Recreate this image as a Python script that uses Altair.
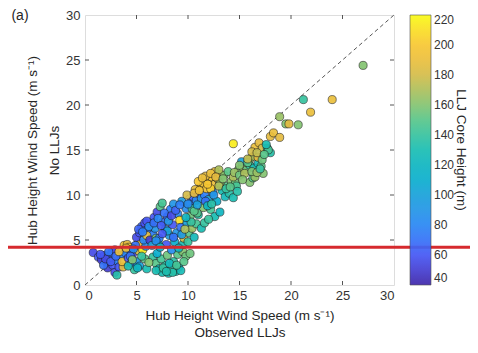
import altair as alt
import pandas as pd

# Observed LLJs hub-height wind speed (x), No-LLJ hub-height wind speed (y), LLJ core height (colour)
obs_speed = [
    0.8, 1.3, 1.6, 1.9, 2.1, 2.4, 2.2, 2.7, 2.9, 3.1, 2.6, 3.3, 1.8, 3.5, 2.9, 3.1,
    3.7, 3.6, 3.8, 4.1, 4.3, 3.9, 4.2, 4.5, 4.6, 4.8, 5.0, 5.2, 5.4, 5.6, 5.3, 5.8, 6.0, 4.4, 4.9, 5.9,
    5.0, 5.3, 5.5, 5.8, 6.1, 6.4, 6.6, 5.7, 6.0, 6.3, 6.8, 6.9, 7.1, 6.5,
    6.6, 6.9, 7.2, 7.5, 7.8, 8.1, 8.4, 8.8, 9.1, 7.4, 8.0, 8.6, 9.0, 9.5, 9.8, 6.2, 7.0,
    6.7, 7.0, 7.3, 7.5, 7.6, 7.8, 8.0, 8.2, 8.3, 8.5, 8.7, 8.9, 9.0, 9.2, 9.3, 9.5, 9.6, 9.8, 9.9,
    10.1, 10.2, 10.4, 7.2, 7.9, 8.4, 9.1, 10.0, 10.6, 10.8, 11.0, 11.3, 11.6, 8.6, 9.4,
    10.2, 10.5, 10.8, 11.0, 11.3, 11.6, 12.0, 12.4, 12.8, 11.2, 11.5, 11.8, 12.0, 12.3, 12.6, 12.9,
    13.1, 12.2, 11.7, 12.6, 10.7, 11.0, 10.4, 10.9, 11.5, 12.2, 12.6, 13.1, 12.0, 9.9,
    13.3, 13.6, 14.0, 14.4, 13.8, 14.2, 14.6, 13.1, 13.5, 13.9, 14.4, 14.9, 15.3, 15.7, 15.2,
    16.0, 16.3, 16.5, 17.3, 16.0, 16.4, 16.8, 17.1, 13.0, 14.7,
    16.0, 16.4, 16.8, 17.2, 16.5, 16.9, 17.2, 17.7, 18.0, 17.8, 18.0, 18.3, 18.9, 14.4,
    18.9, 19.5, 19.8, 20.7, 21.9, 21.2, 24.0, 27.0,
    5.2, 5.6, 6.0, 6.2, 6.7, 7.1, 7.4, 7.7, 8.1, 8.4, 8.8, 9.2, 8.0, 7.5, 6.9, 7.3, 8.6, 9.4, 9.7,
    10.3, 9.8, 10.6,
    2.0, 2.5, 3.0, 3.3, 4.0, 4.7, 4.4, 1.5, 2.3, 4.2, 4.6, 5.5, 5.1,
    6.9, 7.6, 8.2, 8.5, 9.3, 7.9, 8.9, 9.6, 10.2,
    10.6, 11.1, 11.4, 11.9, 12.2, 12.7, 13.0, 12.5, 11.7, 10.9, 11.9, 12.3, 10.0,
    13.4, 13.7, 14.1, 14.5, 15.0, 15.5, 15.0, 15.8, 16.2, 16.7, 17.0, 14.8, 15.3,
    16.2, 16.7, 17.4, 17.6, 15.8,
]
nollj_speed = [
    3.6, 3.1, 2.8, 3.3, 2.5, 3.0, 1.9, 2.2, 1.4, 2.7, 3.6, 2.0, 2.2, 3.3, 3.9, 1.1,
    2.0, 2.6, 4.4, 4.5, 4.2, 3.6, 3.0, 2.4, 3.4, 1.7, 2.6, 3.8, 4.6, 3.9, 2.1, 2.9, 1.8, 3.9, 4.4, 4.3,
    5.3, 5.8, 6.5, 6.9, 6.2, 6.8, 5.6, 5.0, 5.5, 5.0, 6.3, 5.2, 4.7, 4.4,
    3.1, 2.4, 1.8, 1.4, 2.2, 1.3, 1.8, 1.5, 2.0, 2.9, 3.3, 2.6, 3.4, 3.7, 3.2, 2.5, 3.5,
    7.5, 8.1, 8.7, 9.1, 7.0, 6.2, 7.6, 5.5, 8.4, 6.7, 4.8, 5.8, 7.9, 7.2, 6.4, 4.5, 5.2, 8.5, 6.9,
    5.8, 7.6, 6.3, 5.2, 4.5, 3.9, 4.1, 4.8, 5.3, 6.8, 7.8, 6.3, 6.9, 9.0, 9.3,
    9.1, 9.8, 9.4, 10.2, 9.6, 10.0, 9.5, 10.3, 9.3, 10.8, 11.3, 10.7, 11.6, 12.0, 11.2, 11.8,
    12.3, 10.7, 12.1, 12.6, 10.6, 11.5, 8.5, 8.0, 8.6, 8.4, 7.6, 8.1, 7.3, 10.0,
    10.5, 9.8, 10.2, 9.7, 11.0, 11.5, 11.3, 11.3, 12.2, 12.6, 12.0, 12.8, 13.1, 12.8, 13.7,
    11.4, 11.9, 12.0, 12.4, 13.3, 13.0, 13.5, 13.2, 12.8, 11.0,
    14.0, 14.3, 14.2, 13.9, 15.3, 15.8, 15.2, 15.2, 14.7, 15.0, 16.5, 16.9, 16.4, 15.7,
    18.7, 17.9, 17.9, 17.8, 19.2, 20.6, 20.6, 24.4,
    6.2, 5.9, 7.1, 6.5, 6.9, 7.4, 6.6, 8.0, 7.1, 7.7, 8.3, 8.9, 6.0, 5.7, 4.9, 4.2, 5.3, 5.6, 6.2,
    7.0, 7.5, 8.2,
    2.9, 2.6, 3.2, 3.7, 4.1, 4.0, 3.2, 3.4, 3.7, 2.1, 2.8, 3.2, 1.9,
    1.6, 1.9, 2.4, 1.4, 1.6, 1.5, 2.2, 2.6, 3.5,
    10.2, 10.5, 11.9, 11.2, 12.4, 12.0, 11.0, 10.0, 9.3, 8.9, 8.8, 9.0, 9.0,
    11.8, 10.7, 10.9, 12.5, 12.2, 12.4, 13.3, 13.6, 12.6, 12.5, 12.9, 10.4, 11.7,
    14.8, 14.7, 14.5, 15.6, 14.0,
]
core_height = [
    55, 60, 50, 65, 55, 70, 50, 60, 55, 75, 65, 60, 70, 80, 58, 135,
    185, 190, 195, 185, 200, 80, 60, 75, 55, 140, 95, 180, 190, 215, 100, 150, 130, 65, 70, 85,
    55, 60, 65, 58, 70, 62, 75, 80, 185, 50, 90, 160, 120, 100,
    140, 150, 125, 130, 135, 128, 140, 130, 120, 145, 155, 138, 150, 160, 155, 160, 110,
    60, 55, 150, 145, 70, 85, 65, 95, 75, 60, 110, 90, 80, 210, 70, 130, 180, 85, 100,
    150, 155, 165, 75, 60, 85, 120, 140, 125, 145, 135, 130, 140, 90, 95,
    70, 65, 80, 60, 90, 75, 100, 85, 110, 185, 190, 195, 185, 200, 190, 180,
    195, 205, 185, 190, 190, 200, 140, 150, 160, 145, 130, 120, 140, 180,
    130, 125, 135, 130, 150, 160, 155, 165, 160, 150, 170, 160, 165, 155, 100,
    160, 150, 165, 160, 140, 130, 125, 150, 170, 145,
    165, 170, 185, 155, 190, 185, 180, 140, 135, 145, 185, 190, 185, 215,
    165, 160, 185, 160, 190, 140, 190, 160,
    65, 75, 60, 85, 70, 80, 62, 70, 90, 55, 65, 75, 100, 60, 85, 115, 70, 95, 170,
    140, 120, 150,
    55, 62, 68, 190, 190, 85, 70, 60, 72, 130, 160, 140, 120,
    130, 140, 125, 135, 128, 132, 145, 150, 155,
    185, 195, 190, 200, 190, 185, 170, 90, 70, 100, 120, 135, 85,
    160, 140, 150, 165, 155, 170, 160, 150, 160, 165, 140, 135, 160,
    180, 175, 150, 130, 175,
]

axis_ticks = [0, 5, 10, 15, 20, 25, 30]
colorbar_ticks = [40, 60, 80, 100, 120, 140, 160, 180, 200, 220]
diag_line = [0, 30]
red_line_y = [4.2]

# parula colour stops (evenly spaced)
parula = ["#3e26a8", "#4852f4", "#2b82fa", "#209ae1", "#07b0cc", "#19bdb3",
          "#4fc78f", "#9ec262", "#e3ba42", "#fbc930", "#f9fb15"]

FONT = "Liberation Sans"
W, H = 309, 270

df = pd.DataFrame({"obs": obs_speed, "nollj": nollj_speed, "core": core_height})
diag_df = pd.DataFrame({"a": diag_line, "b": diag_line})
ticks_df = pd.DataFrame({"t": axis_ticks[1:-1]})
red_df = pd.DataFrame({"y": red_line_y})

xscale = alt.Scale(domain=[0, 30], nice=False, zero=False)
yscale = alt.Scale(domain=[0, 30], nice=False, zero=False)

xaxis = alt.Axis(values=axis_ticks, grid=False, domain=False, ticks=False,
                 labelPadding=4, labelFontSize=13, labelColor="#333",
                 title=["Hub Height Wind Speed (m s\u207b\u00b9)", "Observed LLJs"],
                 titleFontSize=13.5, titleFontWeight="normal", titleColor="#262626",
                 titlePadding=6, titleLineHeight=17, labelFont=FONT, titleFont=FONT)
yaxis = alt.Axis(values=axis_ticks, grid=False, domain=False, ticks=False,
                 labelPadding=5, labelFontSize=13, labelColor="#333",
                 title=["Hub Height Wind Speed (m s\u207b\u00b9)", "No LLJs"],
                 titleFontSize=13.5, titleFontWeight="normal", titleColor="#262626",
                 titlePadding=4, titleLineHeight=22, labelFont=FONT, titleFont=FONT)

diag = alt.Chart(diag_df).mark_line(color="#555", strokeDash=[4, 3], strokeWidth=1).encode(
    x=alt.X("a:Q", scale=xscale, axis=xaxis),
    y=alt.Y("b:Q", scale=yscale, axis=yaxis),
)

points = alt.Chart(df).mark_circle(size=66, stroke="#1a1a1a", strokeWidth=0.6, opacity=0.92).encode(
    x=alt.X("obs:Q", scale=xscale),
    y=alt.Y("nollj:Q", scale=yscale),
    color=alt.Color("core:Q",
                    scale=alt.Scale(domain=[40, 220], range=parula, interpolate="rgb"),
                    legend=alt.Legend(title="LLJ Core Height (m)", orient="right", offset=16,
                                      values=colorbar_ticks, gradientLength=270,
                                      gradientThickness=21, gradientStrokeColor="#444",
                                      gradientStrokeWidth=0.6, labelOffset=3,
                                      labelFontSize=12, labelColor="#333", labelFont=FONT,
                                      labelOverlap=False, titleOrient="right",
                                      titleAnchor="middle", titleFontSize=13.5,
                                      titleFontWeight="normal", titleColor="#262626",
                                      titleFont=FONT, padding=0, titlePadding=0)),
)

tick_bottom = alt.Chart(ticks_df).mark_rule(color="#555").encode(
    x=alt.X("t:Q", scale=xscale), y=alt.value(H), y2=alt.value(H - 4))
tick_top = alt.Chart(ticks_df).mark_rule(color="#555").encode(
    x=alt.X("t:Q", scale=xscale), y=alt.value(0), y2=alt.value(4))
tick_left = alt.Chart(ticks_df).mark_rule(color="#555").encode(
    y=alt.Y("t:Q", scale=yscale), x=alt.value(0), x2=alt.value(4))
tick_right = alt.Chart(ticks_df).mark_rule(color="#555").encode(
    y=alt.Y("t:Q", scale=yscale), x=alt.value(W), x2=alt.value(W - 4))

red = alt.Chart(red_df).mark_rule(color="#d62a2e", strokeWidth=3, clip=False).encode(
    y=alt.Y("y:Q", scale=yscale), x=alt.value(-77), x2=alt.value(W + 80))

label_a = alt.Chart(pd.DataFrame({"t": ["(a)"]})).mark_text(
    fontSize=14, font=FONT, color="#262626", align="center", baseline="middle"
).encode(text="t:N", x=alt.value(-65), y=alt.value(1))

chart = alt.layer(diag, points, tick_bottom, tick_top, tick_left, tick_right, red, label_a).properties(
    width=W, height=H,
    autosize=alt.AutoSizeParams(type="none"),
    padding={"left": 77, "top": 7, "right": 76, "bottom": 56},
).configure_view(stroke="#666", strokeWidth=1).configure(background="white")

chart.save("out.html", embed_options={"renderer": "svg", "actions": False})
